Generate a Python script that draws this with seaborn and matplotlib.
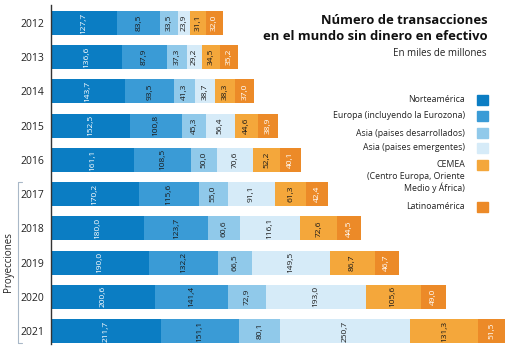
import matplotlib
matplotlib.use("Agg")
import matplotlib.pyplot as plt
import seaborn as sns
import numpy as np
import pandas as pd
from matplotlib.patches import Rectangle
from matplotlib.lines import Line2D

years = ["2012", "2013", "2014", "2015", "2016", "2017", "2018", "2019", "2020", "2021"]
series_names = ["Norteamérica", "Europa (incluyendo la Eurozona)", "Asia (paises desarrollados)",
                "Asia (paises emergentes)", "CEMEA", "Latinoamérica"]
norteamerica = [127.7, 136.6, 143.7, 152.5, 161.1, 170.2, 180.0, 190.0, 200.6, 211.7]
europa = [83.5, 87.9, 93.5, 100.8, 108.5, 115.6, 123.7, 132.2, 141.4, 151.1]
asia_des = [33.5, 37.3, 41.3, 45.3, 50.0, 55.0, 60.6, 66.5, 72.9, 80.1]
asia_em = [23.9, 29.2, 38.7, 56.4, 70.6, 91.1, 116.1, 149.5, 193.0, 250.7]
cemea = [31.1, 34.5, 38.3, 44.6, 52.2, 61.3, 72.6, 86.7, 105.6, 131.3]
latam = [32.0, 35.2, 37.0, 38.9, 40.1, 42.4, 44.5, 46.7, 49.0, 51.5]

colors = ["#0b7dc3", "#3a9bd6", "#90c9ea", "#d6ebf8", "#f4a73b", "#ec8a28"]
text_colors = ["white", "#1a1a1a", "#1a1a1a", "#1a1a1a", "#1a1a1a", "white"]

series = [norteamerica, europa, asia_des, asia_em, cemea, latam]
df = pd.DataFrame({"year": years})
for name, vals in zip(series_names, series):
    df[name] = vals
cum = df[series_names].cumsum(axis=1)
starts = cum - df[series_names]

sns.set_theme(style="white")
plt.rcParams['font.family'] = ['Open Sans', 'DejaVu Sans']

W, H = 510, 349
fig = plt.figure(figsize=(W / 100, H / 100), dpi=100)
ax_left, ax_right, ax_top, ax_bot = 51, 510, 5, 344
ax = fig.add_axes([ax_left / W, 1 - ax_bot / H, (ax_right - ax_left) / W, (ax_bot - ax_top) / H])

for i in reversed(range(len(series_names))):
    d = pd.DataFrame({"year": years, "val": cum[series_names[i]].values})
    sns.barplot(data=d, x="val", y="year", orient="h", color=colors[i], width=0.7,
                saturation=1, ax=ax, linewidth=0)

for i, name in enumerate(series_names):
    for j, y in enumerate(years):
        v = df[name].iloc[j]
        xc = starts[name].iloc[j] + v / 2
        ax.text(xc, j, f"{v:.1f}".replace(".", ","), rotation=90, ha="center", va="center",
                fontsize=6, color=text_colors[i])

xmax = 876.4 * (ax_right - ax_left) / (505 - ax_left)
ax.set_xlim(0, xmax)
ax.set_ylim(9 + (ax_bot - 331) / 34.2, -(23 - ax_top) / 34.2)
ax.set_xlabel("")
ax.set_ylabel("")
ax.set_xticks([])
for s in ["top", "right", "bottom"]:
    ax.spines[s].set_visible(False)
ax.spines["left"].set_color("#333333")
ax.spines["left"].set_linewidth(1.0)
ax.tick_params(axis="y", length=0, pad=5, labelsize=7.5, labelcolor="#222222")

def fx(px):
    return px / W

def fy(py):
    return 1 - py / H

# Projections bracket
bc = "#a9b8c8"
fig.add_artist(Line2D([fx(18), fx(18)], [fy(182), fy(343)], color=bc, lw=0.8))
fig.add_artist(Line2D([fx(18), fx(22)], [fy(182), fy(182)], color=bc, lw=0.8))
fig.add_artist(Line2D([fx(18), fx(22)], [fy(343), fy(343)], color=bc, lw=0.8))
fig.text(fx(9), fy(262), "Proyecciones", rotation=90, ha="center", va="center", fontsize=7, color="#222222")

# Title
fig.text(fx(488), fy(20), "Número de transacciones", ha="right", va="center", fontsize=9.4,
         fontweight="bold", color="#111111")
fig.text(fx(488), fy(37), "en el mundo sin dinero en efectivo", ha="right", va="center", fontsize=9.4,
         fontweight="bold", color="#111111")
fig.text(fx(487), fy(53), "En miles de millones", ha="right", va="center", fontsize=7, color="#222222")

# Legend
legend_items = [
    (["Norteamérica"], 99, 100),
    (["Europa (incluyendo la Eurozona)"], 116, 116),
    (["Asia (paises desarrollados)"], 133, 133),
    (["Asia (paises emergentes)"], 148, 148),
    (["CEMEA", "(Centro Europa, Oriente", "Medio y África)"], 165, 165),
    (["Latinoamérica"], 206, 207),
]
for (lines, ty, sy), c in zip(legend_items, colors):
    for k, line in enumerate(lines):
        fig.text(fx(465), fy(ty + k * 11.5), line, ha="right", va="center", fontsize=6.3, color="#222222")
    fig.add_artist(Rectangle((fx(477), fy(sy + 5)), 11 / W, 10 / H, color=c, transform=fig.transFigure))

fig.savefig("out.png", dpi=100)
